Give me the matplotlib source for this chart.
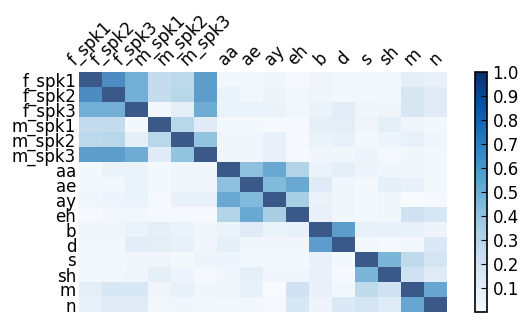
import numpy as np
import matplotlib
matplotlib.use("Agg")
import matplotlib.pyplot as plt

labels = ["f_spk1", "f_spk2", "f_spk3", "m_spk1", "m_spk2", "m_spk3",
          "aa", "ae", "ay", "eh", "b", "d", "s", "sh", "m", "n"]

# similarity matrix
sim = [
    [1.00, .75, .58, .30, .33, .67, .03, .03, .05, .02, .06, .04, .04, .04, .13, .10],
    [.75, 1.00, .58, .30, .35, .67, .08, .04, .07, .04, .06, .04, .04, .04, .20, .15],
    [.58, .58, 1.00, .03, .12, .60, .08, .08, .08, .04, .08, .14, .05, .06, .20, .15],
    [.30, .30, .03, 1.00, .35, .15, .03, .03, .02, .02, .12, .13, .06, .12, .06, .04],
    [.33, .35, .12, .35, 1.00, .47, .05, .05, .10, .02, .08, .10, .03, .07, .10, .05],
    [.67, .67, .60, .15, .47, 1.00, .05, .05, .10, .02, .05, .05, .07, .02, .05, .04],
    [.03, .08, .08, .03, .05, .05, 1.00, .48, .62, .37, .08, .12, .07, .05, .05, .03],
    [.03, .04, .08, .03, .05, .05, .48, 1.00, .52, .62, .15, .05, .03, .12, .10, .04],
    [.05, .07, .08, .02, .10, .10, .62, .52, 1.00, .40, .08, .05, .03, .05, .01, .02],
    [.02, .04, .04, .02, .02, .02, .37, .62, .40, 1.00, .10, .05, .03, .05, .25, .20],
    [.06, .06, .08, .12, .08, .05, .08, .15, .08, .10, 1.00, .67, .10, .10, .10, .07],
    [.04, .04, .14, .13, .10, .05, .12, .05, .05, .05, .67, 1.00, .03, .02, .04, .18],
    [.04, .04, .05, .06, .03, .07, .07, .03, .03, .03, .10, .03, 1.00, .55, .32, .22],
    [.04, .04, .06, .12, .07, .02, .05, .12, .05, .05, .10, .02, .55, 1.00, .25, .16],
    [.13, .20, .20, .06, .10, .05, .05, .10, .01, .25, .10, .04, .32, .25, 1.00, .63],
    [.10, .15, .15, .04, .05, .04, .03, .04, .02, .20, .07, .18, .22, .16, .63, 1.00],
]

fig = plt.figure(figsize=(5.29, 3.22), dpi=100)
ax = fig.add_axes([79/529, 1 - 312/322, 368/529, 240/322])
cax = fig.add_axes([475/529, 1 - 312/322, 12/529, 240/322])

im = ax.imshow(np.array(sim), cmap="Blues", vmin=0, vmax=1, alpha=0.8,
               aspect="auto", interpolation="nearest")

ax.xaxis.tick_top()
ax.set_xticks(range(len(labels)))
ax.set_yticks(range(len(labels)))
ax.set_xticklabels(labels, rotation=45, fontsize=12)
ax.set_yticklabels(labels, fontsize=12)
ax.tick_params(length=0, pad=2)
for s in ax.spines.values():
    s.set_visible(False)

sm = matplotlib.cm.ScalarMappable(cmap="Blues", norm=plt.Normalize(0, 1))
cb = fig.colorbar(sm, cax=cax)
cb.set_ticks([0.1, 0.2, 0.3, 0.4, 0.5, 0.6, 0.7, 0.8, 0.9, 1.0])
cb.ax.tick_params(direction="in", length=4, labelsize=12, pad=4)
cb.outline.set_linewidth(1.2)

fig.savefig("out.png", dpi=100)
